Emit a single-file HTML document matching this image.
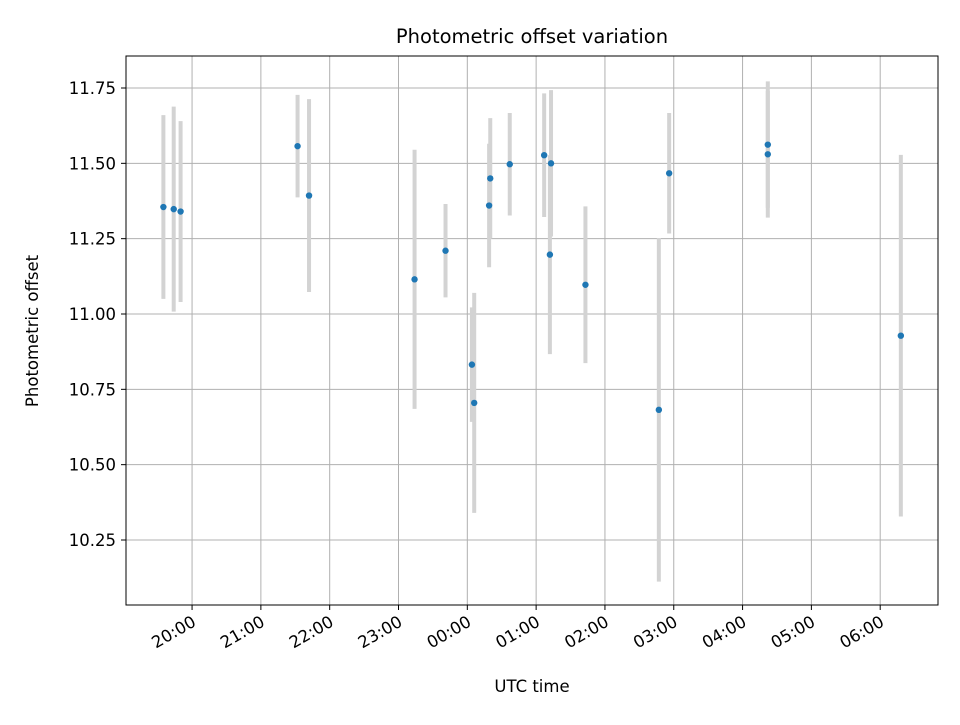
<!DOCTYPE html>
<html><head><meta charset="utf-8"><style>
body{margin:0;background:#fff;font-family:"Liberation Sans","DejaVu Sans",sans-serif;}
svg text{font-family:"DejaVu Sans","Liberation Sans",sans-serif;fill:#000;}
</style></head><body>
<svg id="chart" width="960" height="720" xmlns="http://www.w3.org/2000/svg">
<rect width="960" height="720" fill="#fff"/>
<g id="grid"></g><g id="bars"></g><g id="pts"></g><g id="axes"></g>
</svg>
<script>
const times=["19:35","19:44","19:50","21:32","21:42","23:14","23:41","00:04","00:06","00:19","00:20","00:37","01:07","01:12","01:13","01:43","02:47","02:56","04:22","04:22","06:18"];
const offsets=[11.355,11.348,11.34,11.557,11.393,11.115,11.21,10.832,10.705,11.36,11.45,11.497,11.527,11.197,11.50,11.097,10.682,11.467,11.562,11.53,10.928];
const errors=[0.305,0.34,0.30,0.17,0.32,0.43,0.155,0.19,0.365,0.205,0.2,0.17,0.205,0.33,0.243,0.26,0.57,0.2,0.21,0.21,0.6];
const yTicks=[10.25,10.5,10.75,11.0,11.25,11.5,11.75];
const xTickLabels=["20:00","21:00","22:00","23:00","00:00","01:00","02:00","03:00","04:00","05:00","06:00"];
const L=126,R=938,T=56,B=605;
function toH(s){let [h,m]=s.split(":").map(Number);if(h<12)h+=24;return h+m/60-20;}
const xMin=-0.96,xMax=10.84;
function X(h){return L+(h-xMin)/(xMax-xMin)*(R-L);}
function Y(v){return 88+(11.75-v)*301.33;}
const NS="http://www.w3.org/2000/svg";
function mk(tag,attrs,parent){const e=document.createElementNS(NS,tag);for(const k in attrs)e.setAttribute(k,attrs[k]);document.getElementById(parent).appendChild(e);return e;}
yTicks.forEach(v=>{
 const y=Y(v);
 const g=mk("line",{x1:L,x2:R,y1:y,y2:y,stroke:"#b0b0b0","stroke-width":1},"grid");
 
 
 mk("line",{x1:L-5,x2:L,y1:y,y2:y,stroke:"#000"},"axes");
 const t=mk("text",{x:L-10,y:y+6,"text-anchor":"end","font-size":16.5},"axes");
 t.textContent=v.toFixed(2);
 
 
});
xTickLabels.forEach((s,i)=>{
 const x=X(i);
 const g=mk("line",{x1:x,x2:x,y1:T,y2:B,stroke:"#b0b0b0","stroke-width":1},"grid");
 
 
 mk("line",{x1:x,x2:x,y1:B,y2:B+5,stroke:"#000"},"axes");
 const t=mk("text",{x:x+5,y:B+20,"text-anchor":"end","font-size":16.5,transform:`rotate(-30 ${x+5} ${B+20})`},"axes");
 t.textContent=s;
 
 
});
times.forEach((s,i)=>{
 const x=X(toH(s));
 const b=mk("line",{x1:x,x2:x,y1:Y(offsets[i]+errors[i]),y2:Y(offsets[i]-errors[i]),stroke:"#d3d3d3","stroke-width":4},"bars");
 
 
 const c=mk("circle",{cx:x,cy:Y(offsets[i]),r:3.2,fill:"#1f77b4"},"pts");
 
 
});
const fr=mk("rect",{x:L,y:T,width:R-L,height:B-T,fill:"none",stroke:"#000","stroke-width":1},"axes");


const tt=mk("text",{x:532,y:43,"text-anchor":"middle","font-size":19.5},"axes");
tt.textContent="Photometric offset variation";


const xl=mk("text",{x:532,y:692,"text-anchor":"middle","font-size":16.5},"axes");
xl.textContent="UTC time";


const yl=mk("text",{x:38,y:331,"text-anchor":"middle","font-size":16.5,transform:"rotate(-90 38 331)"},"axes");
yl.textContent="Photometric offset";


</script>
</body></html>
